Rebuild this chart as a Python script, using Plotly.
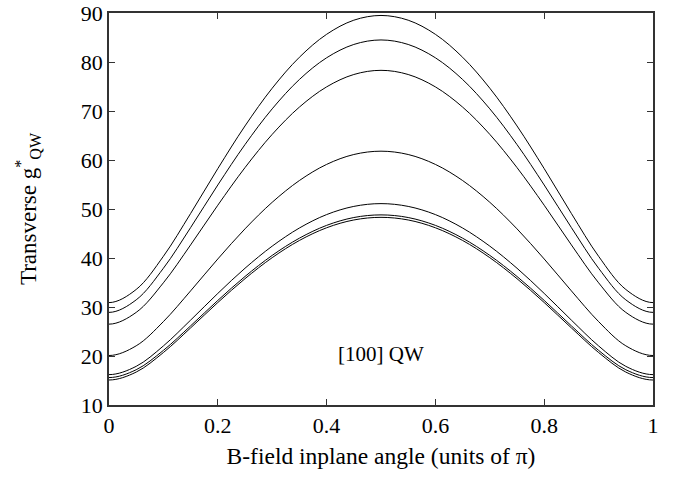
import plotly.graph_objects as go

angle = [0, 0.05, 0.1, 0.15, 0.2, 0.25, 0.3, 0.35, 0.4, 0.45, 0.5,
         0.55, 0.6, 0.65, 0.7, 0.75, 0.8, 0.85, 0.9, 0.95, 1.0]

g1 = [30.9, 33.58, 40.35, 49.08, 58.24, 66.95, 74.65, 80.97, 85.65, 88.53, 89.5,
      88.53, 85.65, 80.97, 74.65, 66.95, 58.24, 49.08, 40.35, 33.58, 30.9]
g2 = [28.9, 31.46, 37.91, 46.20, 54.90, 63.15, 70.44, 76.43, 80.86, 83.58, 84.5,
      83.58, 80.86, 76.43, 70.44, 63.15, 54.90, 46.20, 37.91, 31.46, 28.9]
g3 = [26.5, 28.90, 34.94, 42.67, 50.77, 58.45, 65.23, 70.80, 74.92, 77.45, 78.3,
      77.45, 74.92, 70.80, 65.23, 58.45, 50.77, 42.67, 34.94, 28.90, 26.5]
g4 = [20.1, 22.08, 27.02, 33.29, 39.80, 45.95, 51.37, 55.81, 59.10, 61.12, 61.8,
      61.12, 59.10, 55.81, 51.37, 45.95, 39.80, 33.29, 27.02, 22.08, 20.1]
g5 = [16.2, 17.89, 22.06, 27.32, 32.77, 37.91, 42.42, 46.12, 48.86, 50.53, 51.1,
      50.53, 48.86, 46.12, 42.42, 37.91, 32.77, 27.32, 22.06, 17.89, 16.2]
g6 = [15.6, 17.20, 21.15, 26.15, 31.34, 36.23, 40.53, 44.05, 46.66, 48.26, 48.8,
      48.26, 46.66, 44.05, 40.53, 36.23, 31.34, 26.15, 21.15, 17.20, 15.6]
g7 = [15.1, 16.72, 20.71, 25.73, 30.91, 35.78, 40.07, 43.58, 46.17, 47.76, 48.3,
      47.76, 46.17, 43.58, 40.07, 35.78, 30.91, 25.73, 20.71, 16.72, 15.1]

series = [g1, g2, g3, g4, g5, g6, g7]

x_ticks = [0, 0.2, 0.4, 0.6, 0.8, 1]
x_tick_labels = ["0", "0.2", "0.4", "0.6", "0.8", "1"]
y_ticks = [10, 20, 30, 40, 50, 60, 70, 80, 90]

label_text = "[100] QW"
label_x = 0.5
label_y = 20.5

FONT = "Liberation Serif"

fig = go.Figure()
for s in series:
    # the curves are mirror-symmetric about 0 and 1; extend by the mirrored
    # reading so the smoothed line leaves the frame flat, as in the picture
    xs = [-angle[1]] + angle + [2 - angle[-2]]
    ys = [s[1]] + s + [s[-2]]
    fig.add_trace(go.Scatter(x=xs, y=ys, mode="lines",
                             line=dict(color="black", width=1, shape="spline", smoothing=1.0),
                             showlegend=False, hoverinfo="skip", cliponaxis=True))

fig.add_annotation(x=label_x, y=label_y, text=label_text, showarrow=False,
                   font=dict(family=FONT, size=21, color="black"))

axis_common = dict(showline=True, linecolor="#333333", linewidth=1.5, mirror="ticks",
                   ticks="inside", ticklen=6, tickcolor="#333333", tickwidth=1,
                   showgrid=False, zeroline=False,
                   tickfont=dict(family=FONT, size=22, color="black"))

fig.update_xaxes(range=[0, 1], tickvals=x_ticks, ticktext=x_tick_labels,
                 title=dict(text="B-field inplane angle (units of π)",
                            font=dict(family=FONT, size=23.5, color="black"), standoff=10),
                 **axis_common)
fig.update_yaxes(range=[10, 90], tickvals=y_ticks,
                 title=dict(text="Transverse g<sup>*</sup><sub>QW</sub>",
                            font=dict(family=FONT, size=23, color="black"), standoff=38),
                 **axis_common)

fig.update_layout(width=674, height=483, plot_bgcolor="white", paper_bgcolor="white",
                  margin=dict(l=109, r=21, t=13, b=78, autoexpand=False))

fig.write_html("out.html", config={"displayModeBar": False},
               post_script="document.body.style.margin='0';document.body.style.padding='0';")
